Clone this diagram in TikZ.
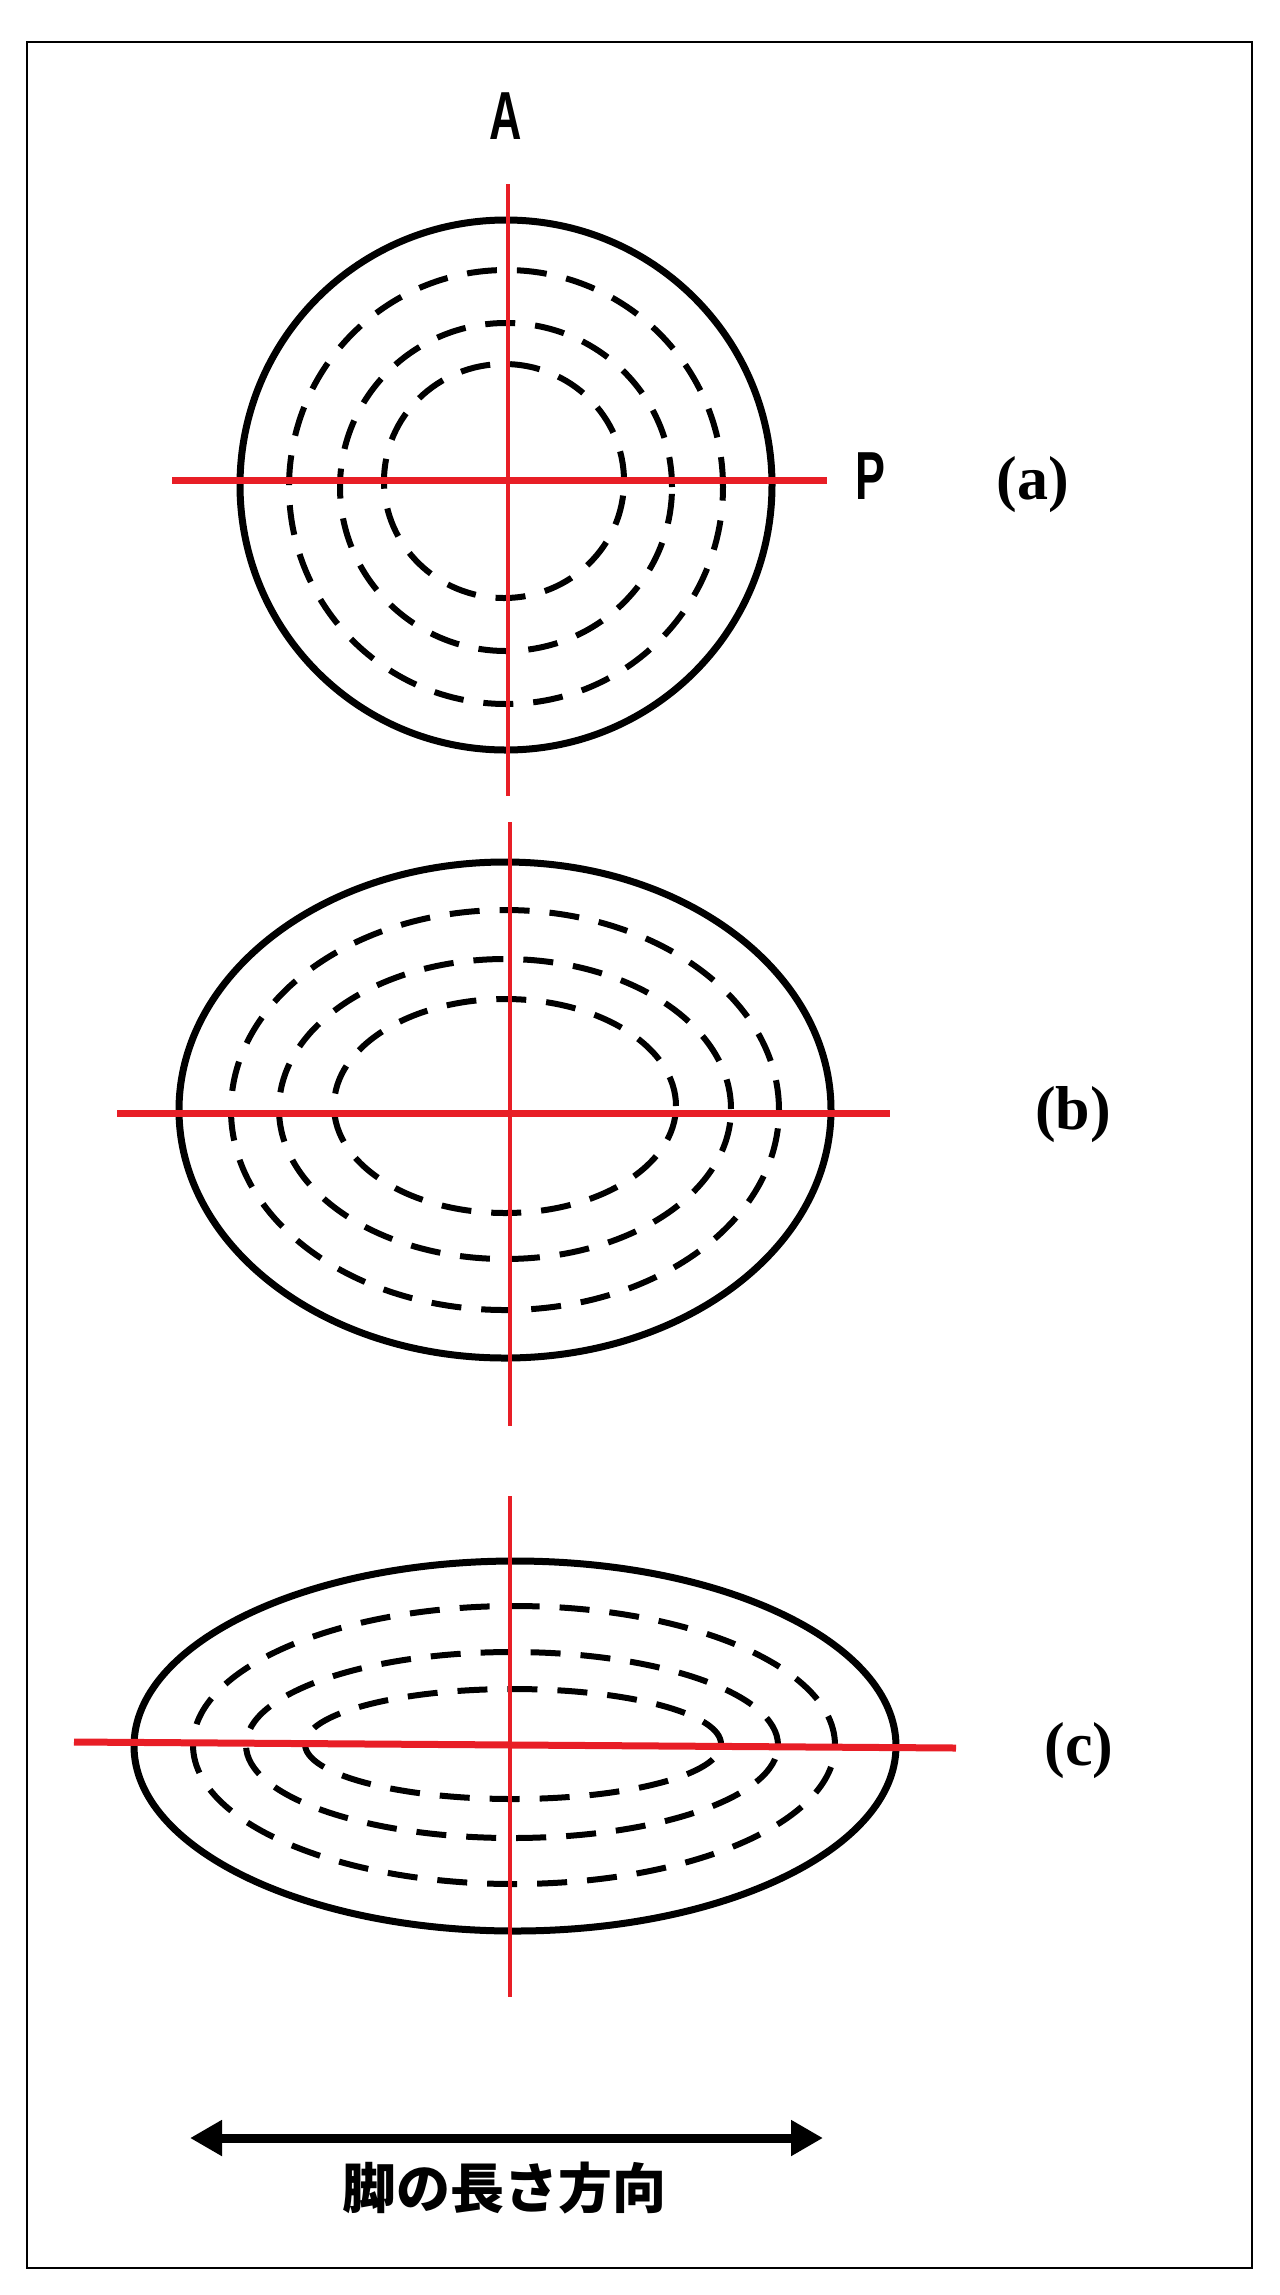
\documentclass[tikz,border=0pt]{standalone}
\usepackage{fontspec}
\setmainfont{Liberation Serif}
\newfontfamily\axisfont{Liberation Sans Bold}[FakeStretch=0.66]
\newfontfamily\jpfont{Noto Sans CJK JP}
\usetikzlibrary{arrows.meta}
\definecolor{AxisRed}{RGB}{232,30,38}
\tikzset{
  frame/.style={draw=black,line width=2.5pt},
  outline/.style={draw=black,line width=7pt},
  ring/.style={draw=black,line width=6pt,dash pattern=on 30pt off 20pt},
  axisv/.style={draw=AxisRed,line width=4.5pt},
  axish/.style={draw=AxisRed,line width=7pt},
  axislabel/.style={inner sep=0pt,font=\axisfont\fontsize{68}{68}\selectfont},
  caselabel/.style={inner sep=0pt,font=\bfseries\fontsize{62}{62}\selectfont},
  leglabel/.style={inner sep=0pt,font=\jpfont\bfseries\fontsize{54}{54}\selectfont},
  legarrow/.style={{Triangle[length=32pt,width=34pt]}-{Triangle[length=32pt,width=34pt]},line width=9pt},
}
\begin{document}
\begin{tikzpicture}[x=1pt,y=-1pt]
  \useasboundingbox (0,0) rectangle (1280,2295);
  \draw[frame] (27,42) rectangle (1252,2268);

  % (a) round section
  \draw[outline] (506,485) ellipse [x radius=266pt, y radius=265pt];
  \draw[ring] (506,487) ellipse [x radius=217pt, y radius=217pt];
  \draw[ring] (506,487) ellipse [x radius=166pt, y radius=164pt];
  \draw[ring] (504,481) ellipse [x radius=120pt, y radius=117pt];
  \draw[axisv] (508,184) -- (508,796);
  \draw[axish] (172,480) -- (827,480);
  \node[axislabel] (lblA) at (506,116) {A};
  \node[axislabel] (lblP) at (870,476) {P};
  \node[caselabel] (casea) at (1033,485) {(a)};

  % (b) oval section
  \draw[outline] (505,1110) ellipse [x radius=326pt, y radius=248pt];
  \draw[ring] (505,1110) ellipse [x radius=274pt, y radius=200pt];
  \draw[ring] (505,1109) ellipse [x radius=226pt, y radius=150pt];
  \draw[ring] (505,1106) ellipse [x radius=171pt, y radius=107pt];
  \draw[axisv] (510,822) -- (510,1426);
  \draw[axish] (117,1113) -- (890,1113);
  \node[caselabel] (caseb) at (1073,1115) {(b)};

  % (c) flat section
  \draw[outline] (515,1746) ellipse [x radius=381pt, y radius=185pt];
  \draw[ring] (514,1745) ellipse [x radius=321pt, y radius=139pt];
  \draw[ring] (512,1745) ellipse [x radius=266pt, y radius=93pt];
  \draw[ring] (513,1744) ellipse [x radius=208pt, y radius=55pt];
  \draw[axisv] (510,1496) -- (510,1997);
  \draw[axish] (74,1742) -- (956,1748);
  \node[caselabel] (casec) at (1079,1751) {(c)};

  % leg direction
  \coordinate (legL) at (190,2138);
  \coordinate (legR) at (823,2138);
  \draw[legarrow] (legL) -- (legR);
  \node[leglabel] (legtext) at (504,2188) {脚の長さ方向};
\end{tikzpicture}
\end{document}
